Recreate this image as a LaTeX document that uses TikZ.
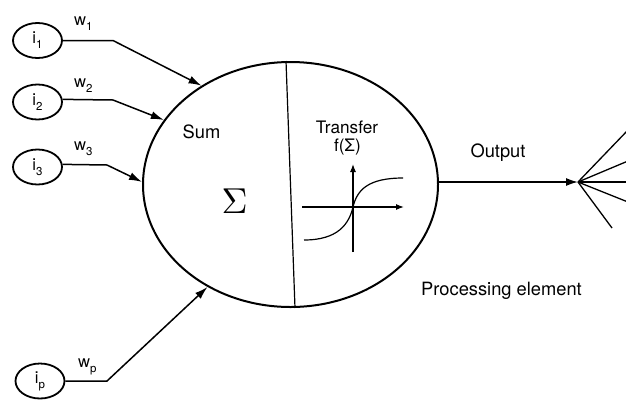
\documentclass[tikz,border=0pt]{standalone}
\usepackage{fontspec}
\setmainfont{TeX Gyre Heros}
\usetikzlibrary{shapes.geometric,arrows.meta,calc}
\newcommand\sbs[1]{\raisebox{-5pt}{\fontsize{11.5}{12}\selectfont #1}}
\begin{document}
\begin{tikzpicture}[x=1pt,y=-1pt,
  inp/.style={ellipse,draw,line width=1.8pt,minimum width=49pt,minimum height=35pt,inner sep=0pt,font=\fontsize{16.6}{18}\selectfont},
  conn/.style={line width=1.5pt,-{Latex[length=13pt,width=8pt]}},
  wlab/.style={inner sep=0pt,anchor=base west,font=\fontsize{16.6}{18}\selectfont},
  txt/.style={inner sep=0pt,anchor=base,font=\fontsize{18.3}{20}\selectfont},
  fanline/.style={line width=1.3pt}]
\useasboundingbox (0,0) rectangle (626,400);
% processing element
\node[ellipse,draw,line width=2pt,minimum width=295pt,minimum height=245pt,inner sep=0pt] (pe) at (290.5,184.5) {};
\draw[line width=1.2pt] ($(pe.north)+(-4.5,0)$) -- ($(pe.south)+(4.5,0)$);
% inputs
\node[inp] (i1) at (37.5,40.5) {i\sbs{1}};
\node[inp] (i2) at (37.5,102) {i\sbs{2}};
\node[inp] (i3) at (37.5,167) {i\sbs{3}};
\node[inp] (ip) at (40,381) {i\sbs{p}};
\coordinate (c1) at (113,40.5);
\coordinate (c2) at (113,100);
\coordinate (c3) at (107,165);
\coordinate (cp) at (107,381);
\draw[conn] (i1.east) -- (c1) -- (pe.132.7);
\draw[conn] (i2.6) -- (c2) -- (pe.153.9);
\draw[conn] (i3.6) -- (c3) -- (pe.179);
\draw[conn] (ip.east) -- (cp) -- (pe.231.1);
\node[wlab] (w1) at (74,25) {w\sbs{1}};
\node[wlab] (w2) at (74,87) {w\sbs{2}};
\node[wlab] (w3) at (74,150) {w\sbs{3}};
\node[wlab] (wp) at (78,367) {w\sbs{p}};
% inside texts
\node[txt] (sum) at (201.5,138) {Sum};
\node[inner sep=0pt,anchor=base,font=\fontsize{10}{12}\selectfont] (sig) at (234.5,213) {\scalebox{3.6}{$\Sigma$}};
\node[txt,font=\fontsize{17.2}{19}\selectfont] (tr) at (347,133) {Transfer};
\node[txt,font=\fontsize{17.2}{19}\selectfont] (fs) at (347.5,151) {f(Σ)};
% transfer graph
\coordinate (o) at (353,207);
\draw[line width=1.2pt,-{Latex[length=8pt,width=6pt]}] (302,207) -- (404,207);
\draw[line width=1.2pt,-{Latex[length=8pt,width=6pt]}] (353,252) -- (353,164);
\draw[line width=1.2pt] (304,240) .. controls (338,240) and (349,224) .. (o) .. controls (357,190) and (368,178) .. (403,178);
% output
\coordinate (fan) at (578,182);
\draw[line width=1.5pt,-{Latex[length=12pt,width=8pt]}] (pe.east |- fan) -- (fan);
\node[txt] (out) at (498,157) {Output};
\node[txt] (proc) at (501.5,295) {Processing element};
\coordinate (f1) at (628,130);
\coordinate (f2) at (628,161);
\coordinate (f3) at (628,182);
\coordinate (f4) at (628,202);
\coordinate (f5) at (612,228);
\foreach \f in {f1,f2,f3,f4,f5} \draw[fanline] (fan) -- (\f);
\end{tikzpicture}
\end{document}
